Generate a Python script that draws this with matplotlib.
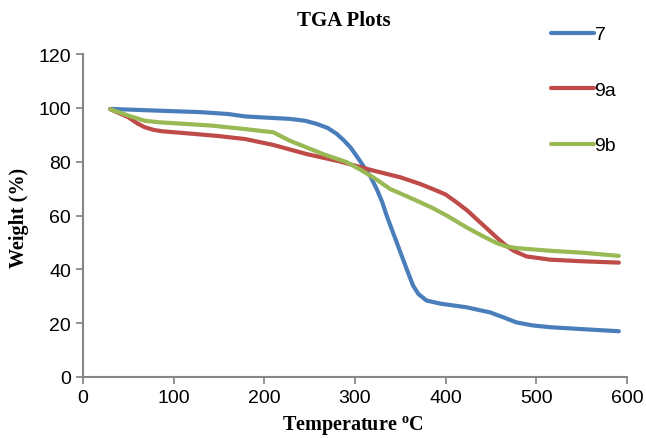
import matplotlib
matplotlib.use("Agg")
import matplotlib.pyplot as plt

# Data
temp_7 = [30, 87, 130, 160, 179, 200, 228, 245, 258, 270, 280, 288, 295, 302, 309, 317, 324, 330, 335, 346, 357, 364, 370, 379, 395, 423, 449, 465, 478, 495, 515, 550, 591]
wt_7 = [99.6, 98.9, 98.4, 97.7, 96.8, 96.4, 95.9, 95.2, 94.0, 92.5, 90.3, 87.8, 85.3, 82.0, 78.5, 74.5, 69.8, 65.0, 59.9, 50.0, 40.1, 34.0, 30.8, 28.4, 27.2, 25.9, 24.0, 22.0, 20.3, 19.2, 18.5, 17.8, 17.0]

temp_9a = [30, 50, 60, 68, 78, 87, 123, 150, 179, 210, 247, 283, 320, 350, 372, 386, 400, 412, 424, 434, 446, 456, 466, 475, 489, 515, 550, 591]
wt_9a = [99.5, 96.5, 94.2, 92.8, 91.8, 91.3, 90.3, 89.5, 88.4, 86.2, 82.8, 80.1, 76.7, 74.2, 71.7, 69.8, 67.8, 64.9, 61.8, 58.7, 55.0, 51.9, 49.0, 46.9, 44.8, 43.6, 43.0, 42.5]

temp_9b = [30, 50, 68, 85, 105, 142, 179, 210, 228, 265, 291, 305, 320, 339, 350, 372, 386, 401, 423, 440, 456, 466, 478, 515, 550, 591]
wt_9b = [99.5, 97.1, 95.2, 94.6, 94.2, 93.4, 92.1, 90.9, 87.8, 82.8, 79.8, 77.2, 74.2, 69.8, 68.2, 64.9, 62.7, 60.0, 55.6, 52.5, 49.8, 48.6, 47.9, 46.9, 46.2, 45.0]

series_labels = ["7", "9a", "9b"]
x_ticks = [0, 100, 200, 300, 400, 500, 600]
y_ticks = [0, 20, 40, 60, 80, 100, 120]

plt.rcParams['font.family'] = ['Liberation Sans', 'DejaVu Sans']
plt.rcParams['mathtext.fontset'] = 'custom'
plt.rcParams['mathtext.rm'] = 'Liberation Serif'
plt.rcParams['mathtext.bf'] = 'Liberation Serif:bold'

fig = plt.figure(figsize=(6.46, 4.39), dpi=100)
ax = fig.add_axes([83/646, 1 - 378/439, (627 - 83)/646, (378 - 55)/439])

colors = ["#4A7EBB", "#BE4B48", "#98B954"]
lw = 3.0
l1, = ax.plot(temp_7, wt_7, color=colors[0], lw=lw, solid_capstyle='round', solid_joinstyle='round', label=series_labels[0])
l2, = ax.plot(temp_9a, wt_9a, color=colors[1], lw=lw, solid_capstyle='round', solid_joinstyle='round', label=series_labels[1])
l3, = ax.plot(temp_9b, wt_9b, color=colors[2], lw=lw, solid_capstyle='round', solid_joinstyle='round', label=series_labels[2])

ax.set_xlim(0, 600)
ax.set_ylim(0, 120)
ax.set_xticks(x_ticks)
ax.set_yticks(y_ticks)
ax.tick_params(labelsize=14, colors='#7f7f7f', labelcolor='black', length=5, width=1.2)
for s in ['top', 'right']:
    ax.spines[s].set_visible(False)
for s in ['left', 'bottom']:
    ax.spines[s].set_color('#868686')
    ax.spines[s].set_linewidth(1.5)

fig.text(344/646, 1 - 21/439, "TGA Plots", ha='center', va='center',
         family='Liberation Serif', fontweight='bold', fontsize=15)
fig.text(19/646, 1 - 218/439, "Weight (%)", ha='center', va='center', rotation=90,
         family='Liberation Serif', fontweight='bold', fontsize=14.5)
fig.text(353/646, 1 - 431/439, r"Temperature $^{\mathbf{o}}$C", ha='center', va='baseline',
         family='Liberation Serif', fontweight='bold', fontsize=14.5)

leg = fig.legend(handles=[l1, l2, l3], loc='upper left', bbox_to_anchor=(543/646, 1 - 19/439),
                 frameon=False, fontsize=14, handlelength=2.2, handletextpad=0.05,
                 labelspacing=1.95, borderaxespad=0)

fig.savefig("out.png", dpi=100)
